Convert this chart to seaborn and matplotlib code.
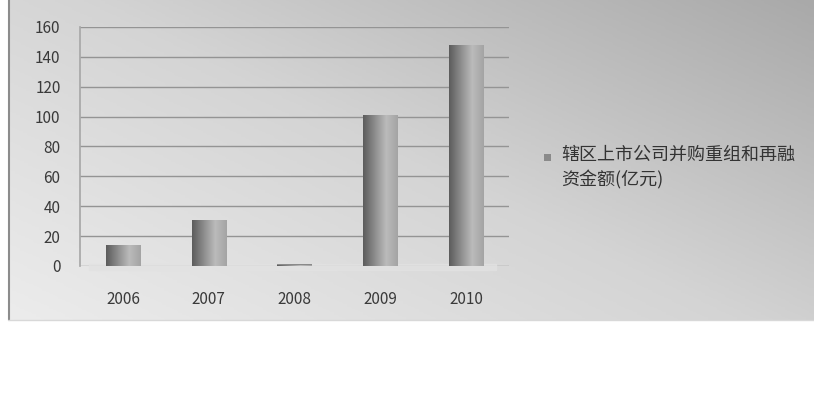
import numpy as np
import pandas as pd
import matplotlib
matplotlib.use("Agg")
import matplotlib.pyplot as plt
from matplotlib.colors import LinearSegmentedColormap
import seaborn as sns

# data
years = ["2006", "2007", "2008", "2009", "2010"]
amounts = [14, 31, 1, 101, 148]
y_ticks = [0, 20, 40, 60, 80, 100, 120, 140, 160]
legend_label = "辖区上市公司并购重组和再融\n资金额(亿元)"

df = pd.DataFrame({"year": years, "amount": amounts})

sns.set_theme(style="white")
plt.rcParams["font.family"] = ["Noto Sans CJK SC", "DejaVu Sans"]

W, H = 814, 411
fig = plt.figure(figsize=(W / 100, H / 100), dpi=100)
fig.patch.set_facecolor("white")

# chart panel with diagonal gray gradient
panel_bot = 320
bg = fig.add_axes([8 / W, 1 - panel_bot / H, (W - 8) / W, panel_bot / H])
gx, gy = np.meshgrid(np.linspace(0, 1, 200), np.linspace(0, 1, 200))
grad = 0.55 * gx + 0.45 * gy  # bottom-left light, top-right dark
bg_cmap = LinearSegmentedColormap.from_list("bg", ["#ececec", "#d4d4d4", "#a9a9a9"])
bg.imshow(grad, cmap=bg_cmap, origin="lower", aspect="auto", extent=[0, 1, 0, 1])
bg.set_xlim(0, 1)
bg.set_ylim(0, 1)
bg.set_axis_off()
fig.add_artist(plt.Line2D([8.5 / W, 8.5 / W], [1 - panel_bot / H, 1], color="#8c8c8c", lw=1.5))
fig.add_artist(plt.Line2D([8 / W, 1], [1 - panel_bot / H, 1 - panel_bot / H], color="#d8d8d8", lw=1))

# plot area
x0, x1 = 80, 509
y0, y1 = 266, 27
ax = fig.add_axes([x0 / W, 1 - y0 / H, (x1 - x0) / W, (y0 - y1) / H])
ax.patch.set_alpha(0)

sns.barplot(data=df, x="year", y="amount", ax=ax, width=0.4, color="#8a8a8a",
            edgecolor="none", zorder=3)

# cylinder-ish shading on bars
bar_cmap = LinearSegmentedColormap.from_list("bar", ["#5c5c5c", "#8c8c8c", "#bbbbbb", "#a4a4a4"])
shade = np.linspace(0, 1, 100).reshape(1, -1)
for p in ax.patches:
    bx, by = p.get_x(), p.get_y()
    bw, bh = p.get_width(), p.get_height()
    im = ax.imshow(shade, cmap=bar_cmap, aspect="auto",
                   extent=[bx, bx + bw, by, by + max(bh, 0.8)], zorder=4)
    im.set_clip_path(p)
    if bh < 2:
        p.set_height(1.2)

ax.set_xlim(-0.5, 4.5)
ax.set_ylim(0, 160)
ax.set_yticks(y_ticks)
for v in y_ticks:
    ax.axhline(v, color="#949494", lw=1.0, zorder=1)
# floor
ax.axhspan(-2.5, 1.5, xmin=0.02, xmax=0.97, color="#e2e2e2", alpha=0.7, zorder=2, clip_on=False)

for s in ["top", "right", "bottom"]:
    ax.spines[s].set_visible(False)
ax.spines["left"].set_color("#a8a8a8")
ax.tick_params(axis="y", length=4, color="#a8a8a8", labelsize=11, labelcolor="#3a3a3a", pad=10)
ax.tick_params(axis="x", length=0, labelsize=11, labelcolor="#3a3a3a", pad=18)
ax.set_xlabel("")
ax.set_ylabel("")

# legend
fig.patches.append(plt.Rectangle((544 / W, 1 - 161 / H), 7 / W, 7 / H, transform=fig.transFigure,
                                 facecolor="#8a8a8a", edgecolor="none"))
fig.text(561 / W, 1 - 157 / H, legend_label, fontsize=13, color="#333333",
         va="baseline", ha="left", linespacing=1.45)
fig.texts[-1].set_position((561 / W, 1 - 146 / H))
fig.texts[-1].set_va("top")

fig.savefig("out.png", dpi=100)
